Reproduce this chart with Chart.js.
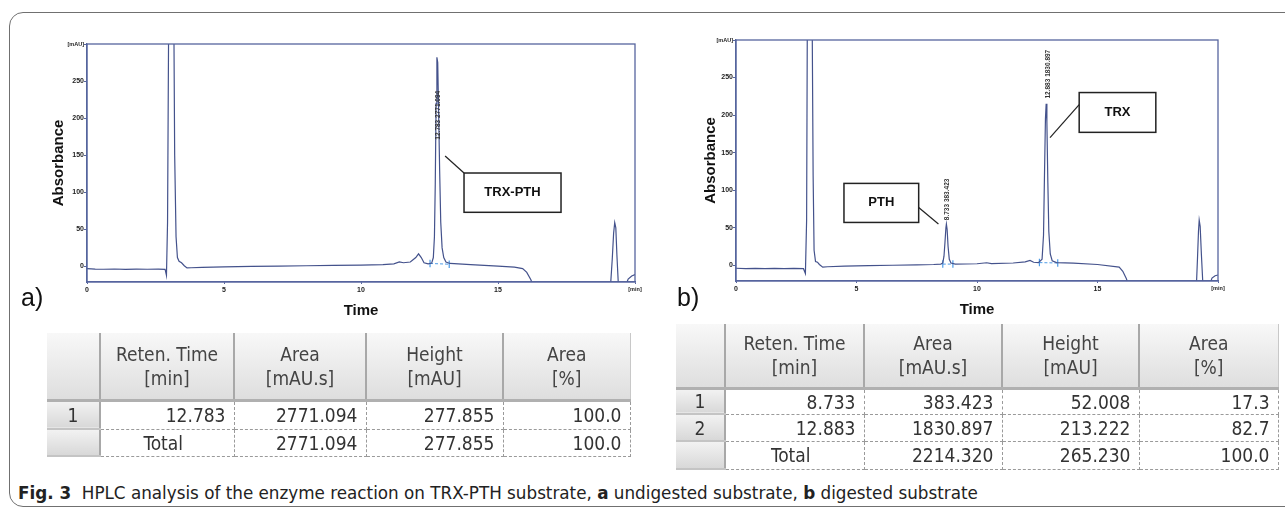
<!DOCTYPE html>
<html>
<head>
<meta charset="utf-8">
<script src="https://cdn.jsdelivr.net/npm/chart.js@4.4.0/dist/chart.umd.min.js"></script>
<style>
  body { margin: 0; background: #fff; width: 1285px; height: 513px; overflow: hidden; position: relative; font-family: Arial, sans-serif; }
  .frame { position: absolute; left: 9px; top: 12px; width: 1320px; height: 493px; border: 1.5px solid #707070; border-radius: 14px; }
  .cv { position: absolute; top: 0; }
  .tag { position: absolute; font-size: 25px; color: #111; font-family: Arial, sans-serif; }
  table.res { position: absolute; border-collapse: collapse; table-layout: fixed;
    font-family: 'DejaVu Sans Condensed', 'DejaVu Sans', Tahoma, sans-serif; font-size: 19px; color: #333; }
  table.res th { background: linear-gradient(#f8f8f8, #dedede); font-weight: normal; line-height: 24px; color: #444;
    border-right: 2px solid #a8a8a8; border-bottom: 3px solid #b0b0b0; padding: 0; }
  table.res th:last-child { border-right: 1px solid #c8c8c8; }
  table.res td { border-right: 1px dashed #9a9a9a; border-bottom: 1px dashed #9a9a9a; text-align: right; padding: 0 8px 0 0; }
  table.res td.idx { background: linear-gradient(#f2f2f2, #d8d8d8); text-align: center; padding: 0;
    border-right: 2px solid #a8a8a8; border-bottom: 2px solid #c4c4c4; }
  table.res td.tot { text-align: center; }
  .cap { position: absolute; left: 18px; top: 483px; font-size: 17px; color: #222; white-space: nowrap;
    font-family: 'Liberation Sans Narrow', 'DejaVu Sans Condensed', Arial, sans-serif; transform-origin: 0 0; }
  .cap b { font-weight: bold; }
</style>
</head>
<body>
<div class="frame"></div>

<canvas id="chartA" class="cv" style="left:0px" width="660" height="340"></canvas>
<canvas id="chartB" class="cv" style="left:650px" width="635" height="340"></canvas>

<div class="tag" style="left:21px;top:283px">a)</div>
<div class="tag" style="left:677px;top:283px">b)</div>

<table class="res" id="tableA" style="left:47px;top:333px;width:583px"></table>
<table class="res" id="tableB" style="left:676px;top:324px;width:602px"></table>

<div class="cap" id="cap"><b>Fig. 3</b>&nbsp; HPLC analysis of the enzyme reaction on TRX-PTH substrate, <b>a</b> undigested substrate, <b>b</b> digested substrate</div>

<script>
// Chromatogram a (undigested) - time [min], absorbance [mAU]
const timeA = [0, 0.3, 0.6, 1.0, 1.4, 1.8, 2.2, 2.6, 2.85, 2.9, 2.94, 2.98, 3.17, 3.2, 3.25, 3.3, 3.36, 3.45, 3.55, 3.65,
  3.8, 4.2, 5, 6, 7, 8, 9, 10, 10.8, 11.2, 11.4, 11.55, 11.8, 12.0, 12.1, 12.2, 12.3, 12.45,
  12.58, 12.64, 12.68, 12.71, 12.74, 12.77, 12.8, 12.83, 12.87, 12.91, 12.96, 13.02, 13.1, 13.25,
  14, 15, 15.6, 15.9, 16.05, 16.2, 16.32, 19.1, 19.17, 19.22, 19.26, 19.3, 19.34, 19.4, 19.62, 19.75, 19.88, 20];
const absA = [-3, -3.6, -3.8, -3.5, -3.9, -3.6, -3.8, -3.7, -4, -12, 60, 330, 330, 150, 40, 12, 7, 5, 1, -2,
  -1.8, -1.2, -0.6, 0, 0.4, 0.9, 1.3, 1.8, 2.5, 3.5, 6, 5, 6, 12, 17, 12, 5, 3.5,
  4.5, 12, 40, 110, 220, 282, 275, 215, 130, 60, 25, 12, 6, 4,
  2.5, 0.5, -1, -3, -8, -18, -30, -30, 10, 45, 59, 52, 15, -30, -30, -17, -13, -11];

// Chromatogram b (digested)
const timeB = [0, 0.4, 0.8, 1.2, 1.6, 2.0, 2.4, 2.8, 2.88, 2.93, 2.96, 3.16, 3.2, 3.24, 3.3, 3.38, 3.46, 3.6,
  3.8, 4.5, 5.5, 6.5, 7.5, 8.2, 8.5, 8.58, 8.63, 8.67, 8.71, 8.73, 8.76, 8.8, 8.85, 8.92, 9.1,
  10, 10.4, 10.6, 11.5, 12.0, 12.2, 12.35, 12.55, 12.7, 12.76, 12.8, 12.84, 12.87, 12.9, 12.94, 12.98, 13.04, 13.12, 13.3,
  14, 15, 15.9, 16.05, 16.2, 16.32, 19.1, 19.15, 19.19, 19.22, 19.26, 19.31, 19.38, 19.62, 19.75, 19.88, 20];
const absB = [-4, -4.5, -4.2, -4.6, -4.3, -4.5, -4.2, -4.6, -11, 60, 330, 330, 120, 20, 5, 4, 1, -2.5,
  -2, -1.2, -0.6, 0, 0.5, 1, 1.5, 3, 12, 30, 50, 55, 48, 25, 8, 3, 1.5,
  2, 3.3, 2.2, 3, 4.5, 6.5, 4, 3.5, 8, 40, 120, 195, 215, 190, 110, 45, 15, 6, 3.5,
  2.8, 1, -2.5, -8, -18, -30, -30, 10, 45, 60, 52, 15, -30, -30, -17, -14, -13];

// integration baseline marks (start / end of each integrated peak)
const baseA = [[12.52, 4], [13.22, 3]];
const baseB = [[8.58, 1.5], [9.0, 1.5], [12.59, 3.5], [13.35, 3]];

const xTicks = [0, 5, 10, 15, 20];
const yTicks = [0, 50, 100, 150, 200, 250, 300];

// peak tables
const colHeads = [['Reten. Time', '[min]'], ['Area', '[mAU.s]'], ['Height', '[mAU]'], ['Area', '[%]']];
const peaksA = [['1', '12.783', '2771.094', '277.855', '100.0']];
const totalA = ['2771.094', '277.855', '100.0'];
const peaksB = [['1', '8.733', '383.423', '52.008', '17.3'], ['2', '12.883', '1830.897', '213.222', '82.7']];
const totalB = ['2214.320', '265.230', '100.0'];

const lineColor = '#44528c';
const axisColor = '#56659e';
const markColor = '#4d9be6';

function toPts(xs, ys) {
  return xs.map((t, i) => ({ x: t, y: ys[i] }));
}

function markPts(list) {
  const out = [];
  list.forEach(([t, v]) => {
    out.push({ x: t, y: v - 5 }, { x: t, y: v + 5 }, { x: t, y: null });
  });
  return out;
}

function dashPts(list) {
  const out = [];
  for (let i = 0; i < list.length; i += 2) {
    out.push({ x: list[i][0], y: list[i][1] }, { x: list[i + 1][0], y: list[i + 1][1] }, { x: list[i + 1][0], y: null });
  }
  return out;
}

// boxes, leader lines, vertical peak labels, frame around the plot
const notesPlugin = {
  id: 'notes',
  afterDatasetsDraw(chart, args, opts) {
    const { ctx, chartArea: a, scales: { x, y } } = chart;
    ctx.save();
    ctx.strokeStyle = axisColor;
    ctx.lineWidth = 1.3;
    ctx.strokeRect(a.left, a.top, a.right - a.left, a.bottom - a.top);

    (opts.peakLabels || []).forEach(p => {
      ctx.save();
      ctx.translate(x.getPixelForValue(p.t), y.getPixelForValue(p.v));
      ctx.rotate(-Math.PI / 2);
      ctx.font = 'bold 6.5px Arial';
      ctx.fillStyle = '#333';
      ctx.textAlign = 'left';
      ctx.textBaseline = 'middle';
      ctx.fillText(p.text, 0, 0);
      ctx.restore();
    });

    (opts.boxes || []).forEach(b => {
      const x0 = x.getPixelForValue(b.t0), x1 = x.getPixelForValue(b.t1);
      const y0 = y.getPixelForValue(b.v0), y1 = y.getPixelForValue(b.v1);
      ctx.strokeStyle = '#222';
      ctx.lineWidth = 1.2;
      ctx.beginPath();
      ctx.moveTo(x.getPixelForValue(b.lead[0][0]), y.getPixelForValue(b.lead[0][1]));
      ctx.lineTo(x.getPixelForValue(b.lead[1][0]), y.getPixelForValue(b.lead[1][1]));
      ctx.stroke();
      ctx.fillStyle = '#fff';
      ctx.fillRect(x0, y0, x1 - x0, y1 - y0);
      ctx.lineWidth = 1.5;
      ctx.strokeRect(x0, y0, x1 - x0, y1 - y0);
      ctx.fillStyle = '#111';
      ctx.font = 'bold 13px Arial';
      ctx.textAlign = 'center';
      ctx.textBaseline = 'middle';
      ctx.fillText(b.text, (x0 + x1) / 2, (y0 + y1) / 2);
    });
    ctx.restore();
  }
};

function makeChart(id, times, values, marks, pad, yWidth, notes) {
  return new Chart(document.getElementById(id), {
    type: 'line',
    data: {
      datasets: [
        { data: toPts(times, values), borderColor: lineColor, borderWidth: 1.2, pointRadius: 0, tension: 0 },
        { data: dashPts(marks), borderColor: markColor, borderWidth: 1, borderDash: [3, 2], pointRadius: 0, spanGaps: false },
        { data: markPts(marks), borderColor: markColor, borderWidth: 1.2, pointRadius: 0, spanGaps: false }
      ]
    },
    options: {
      responsive: false,
      animation: false,
      layout: { padding: pad },
      plugins: { legend: { display: false }, tooltip: { enabled: false }, notes: notes },
      scales: {
        x: {
          type: 'linear', min: 0, max: 20,
          afterBuildTicks: s => { s.ticks = xTicks.map(v => ({ value: v })); },
          afterFit: s => { s.height = 38; },
          grid: { display: true, drawOnChartArea: false, tickLength: 2, color: axisColor },
          border: { display: true, color: axisColor, width: 1.3 },
          ticks: {
            maxRotation: 0, padding: 2, color: '#222',
            font: c => ({ family: 'Arial', weight: 'bold', size: c.tick && c.tick.value === 20 ? 5.5 : 7 }),
            callback: v => v === 20 ? '[min]' : v
          },
          title: { display: true, text: 'Time', color: '#111', padding: 0,
            font: { family: "'Liberation Sans Narrow', Arial", weight: 'bold', size: 15 } }
        },
        y: {
          min: -21, max: 300,
          afterBuildTicks: s => { s.ticks = yTicks.map(v => ({ value: v })); },
          afterFit: s => { s.width = yWidth; },
          grid: { display: true, drawOnChartArea: false, tickLength: 3, color: axisColor },
          border: { display: true, color: axisColor, width: 1.3 },
          ticks: {
            padding: 0, color: '#222',
            font: c => ({ family: 'Arial', weight: 'bold', size: c.tick && c.tick.value === 300 ? 5.5 : 7 }),
            callback: v => v === 300 ? '[mAU]' : v
          },
          title: { display: true, text: 'Absorbance', color: '#111', padding: 0,
            font: { family: 'Arial', weight: 'bold', size: 15 } }
        }
      }
    },
    plugins: [notesPlugin]
  });
}

makeChart('chartA', timeA, absA, baseA, { left: 50, top: 44, right: 25, bottom: 20 }, 37, {
  peakLabels: [{ t: 12.83, v: 171, text: '12.783 2771.094' }],
  boxes: [{ t0: 13.76, t1: 17.3, v0: 126, v1: 73, text: 'TRX-PTH', lead: [[13.07, 149], [13.76, 126]] }]
});

makeChart('chartB', timeB, absB, baseB, { left: 52, top: 40, right: 67, bottom: 21 }, 34, {
  peakLabels: [
    { t: 8.76, v: 60, text: '8.733 383.423' },
    { t: 12.94, v: 222, text: '12.883 1830.897' }
  ],
  boxes: [
    { t0: 4.48, t1: 7.58, v0: 109, v1: 57, text: 'PTH', lead: [[7.58, 77], [8.4, 55]] },
    { t0: 14.24, t1: 17.42, v0: 230, v1: 177, text: 'TRX', lead: [[14.24, 214], [13.03, 170]] }
  ]
});

// tables under the charts
function buildTable(id, widths, heights, rows, total) {
  const t = document.getElementById(id);
  let html = '<colgroup>' + widths.map(w => `<col style="width:${w}px">`).join('') + '</colgroup>';
  html += `<tr style="height:${heights[0]}px"><th></th>` + colHeads.map(h => `<th>${h[0]}<br>${h[1]}</th>`).join('') + '</tr>';
  rows.forEach((r, i) => {
    html += `<tr style="height:${heights[i + 1]}px"><td class="idx">${r[0]}</td>` + r.slice(1).map(c => `<td>${c}</td>`).join('') + '</tr>';
  });
  html += `<tr style="height:${heights[heights.length - 1]}px"><td class="idx"></td><td class="tot">Total</td>` + total.map(c => `<td>${c}</td>`).join('') + '</tr>';
  t.innerHTML = html;
}

buildTable('tableA', [53, 134, 132, 137, 127], [67, 29, 27], peaksA, totalA);
buildTable('tableB', [49, 139, 138, 137, 139], [64, 26, 27, 28], peaksB, totalB);

// caption squeezed to the width it has in the figure
const cap = document.getElementById('cap');
cap.style.transform = `scaleX(${960 / cap.offsetWidth})`;
</script>
</body>
</html>
